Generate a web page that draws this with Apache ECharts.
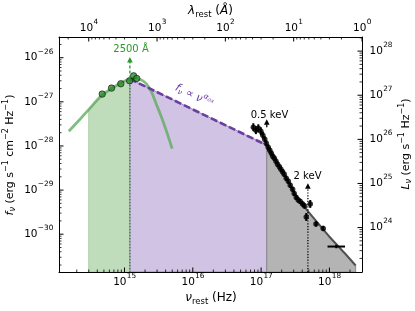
<!DOCTYPE html>
<html>
<head>
<meta charset="utf-8">
<script src="https://cdn.jsdelivr.net/npm/echarts@6.0.0/dist/echarts.min.js"></script>
<style>html,body{margin:0;padding:0;background:#fff;}#chart{width:415px;height:311px;}</style>
</head>
<body>
<div id="chart"></div>
<script>
// ---- axis limits ----
const nuMin = 1.1e14, nuMax = 2.998e18;          // Hz
const fMin = 1.39e-31, fMax = 2.95e-26;          // erg s^-1 cm^-2 Hz^-1
const lumPerFlux = 7.08e53;                      // L_nu / f_nu
const cAngHz = 2.998e18;                         // c in Angstrom * Hz

// ---- UV/optical photometry ----
const photNu = [4.72e14, 6.46e14, 8.83e14, 1.19e15, 1.36e15, 1.51e15];
const photF  = [1.50e-27, 2.05e-27, 2.57e-27, 3.00e-27, 3.89e-27, 3.39e-27];

// ---- accretion-disc model curve ----
const diskNu = [1.53e14, 2.20e14, 3.08e14, 4.32e14, 5.64e14, 7.39e14, 9.35e14, 1.18e15, 1.45e15, 1.71e15, 2.07e15, 2.45e15, 2.90e15, 3.44e15, 4.07e15, 4.98e15];
const diskF  = [2.16e-28, 3.94e-28, 7.00e-28, 1.25e-27, 1.75e-27, 2.28e-27, 2.81e-27, 3.28e-27, 3.46e-27, 3.20e-27, 2.62e-27, 1.75e-27, 9.20e-28, 4.73e-28, 2.28e-28, 8.73e-29];

// ---- shaded optical band (1 micron .. 2500 A) ----
const greenFillNu = [3.0e14, 4.32e14, 5.64e14, 7.39e14, 9.35e14, 1.18e15, 1.2e15];
const greenFillF  = [6.7e-28, 1.25e-27, 1.75e-27, 2.28e-27, 2.81e-27, 3.28e-27, 3.3e-27];

// ---- alpha_ox power law (2500 A .. 0.5 keV) ----
const aoxNu = [1.2e15, 1.21e17];
const aoxF  = [3.3e-27, 1.04e-28];

// ---- X-ray model (0.5 .. 10 keV) ----
const xModelNu = [1.21e17, 1.56e17, 2.04e17, 2.58e17, 3.16e17, 4.00e17, 4.73e17, 6.64e17, 9.93e17, 1.64e18, 2.42e18];
const xModelF  = [1.04e-28, 5.53e-29, 2.66e-29, 1.42e-29, 7.98e-30, 4.73e-30, 3.46e-30, 1.85e-30, 8.87e-31, 3.84e-31, 1.95e-31];

// ---- X-ray spectral points ----
const xrayNu = [7.69e16, 8.38e16, 9.10e16, 9.91e16, 1.06e17, 1.13e17, 1.19e17, 1.27e17, 1.34e17, 1.41e17, 1.48e17, 1.56e17, 1.65e17, 1.74e17, 1.85e17, 1.95e17, 2.06e17, 2.18e17, 2.33e17, 2.50e17, 2.67e17, 2.89e17, 3.05e17, 3.27e17, 3.50e17, 3.74e17, 4.05e17, 4.33e17, 4.58e17, 5.24e17, 6.35e17, 8.11e17];
const xrayF  = [2.66e-28, 2.28e-28, 2.52e-28, 2.16e-28, 1.75e-28, 1.42e-28, 1.15e-28, 9.33e-29, 7.98e-29, 6.82e-29, 5.83e-29, 5.25e-29, 4.49e-29, 3.84e-29, 3.37e-29, 2.95e-29, 2.59e-29, 2.28e-29, 1.85e-29, 1.58e-29, 1.28e-29, 1.04e-29, 8.41e-30, 6.82e-30, 5.98e-30, 5.53e-30, 4.85e-30, 4.38e-30, 2.46e-30, 4.85e-30, 1.71e-30, 1.35e-30];
const xrayErrDex = [0.09, 0.09, 0.09, 0.09, 0.08, 0.07, 0.07, 0.07, 0.07, 0.06, 0.06, 0.06, 0.06, 0.06, 0.06, 0.06, 0.06, 0.06, 0.06, 0.06, 0.06, 0.06, 0.06, 0.06, 0.06, 0.06, 0.06, 0.06, 0.09, 0.09, 0.06, 0.06];

// ---- hard X-ray point (binned) ----
const hardNu = [1.26e18], hardNuLo = [9.38e17], hardNuHi = [1.69e18];
const hardF = [5.25e-31], hardFLo = [4.8e-31], hardFHi = [5.75e-31];

// ---- annotation arrows ----
const arrowNu    = [1.2e15, 1.21e17, 4.84e17];
const arrowTailF = [3.4e-27, 2.66e-28, 1.39e-31];
const arrowTipF  = [1.04e-26, 4.05e-28, 1.42e-29];
const guideNu = [1.2e15];          // dotted 2500 A guide
const guideTopF = [3.3e-27];

// ---- tick decades (exponents) ----
const bottomDecades = [15, 16, 17, 18];       // nu (Hz)
const topDecades = [4, 3, 2, 1, 0];           // lambda (A)
const leftDecades = [-30, -29, -28, -27, -26];// f_nu
const rightDecades = [24, 25, 26, 27, 28];    // L_nu

const FONT = 'DejaVu Sans';
const GREEN = '#2a9a2a';
const PURPLE = '#6a3fa0';

const mctx = document.createElement('canvas').getContext('2d');
function textW(t, size) { mctx.font = size + 'px "DejaVu Sans"'; return mctx.measureText(t).width; }
function expText(k) { return k < 0 ? '\u2212' + (-k) : String(k); }

function axisBase(extra) {
  return Object.assign({
    type: 'log', logBase: 10,
    axisLine: {show: true, onZero: false, lineStyle: {color: '#000', width: 1}},
    axisTick: {show: false}, minorTick: {show: false},
    splitLine: {show: false}, axisLabel: {show: false}
  }, extra);
}

// major ticks + "10^k" labels
function decadeSeries(decades, xi, yi, toPoint, side, size) {
  return {
    type: 'custom', xAxisIndex: xi, yAxisIndex: yi, silent: true, clip: false, z: 30,
    data: decades.map(k => toPoint(Math.pow(10, k))),
    renderItem(params, api) {
      const k = decades[params.dataIndex];
      const p = api.coord([api.value(0), api.value(1)]);
      const sup = expText(k), ss = size * 0.7;
      const w10 = textW('10', size), ws = textW(sup, ss);
      let x0, yc, t;
      if (side === 'bottom') { x0 = p[0] - (w10 + ws) / 2; yc = p[1] + 10; t = [0, -4.5]; }
      else if (side === 'top') { x0 = p[0] - (w10 + ws) / 2; yc = p[1] - 8.5; t = [0, 4.5]; }
      else if (side === 'left') { x0 = p[0] - 6 - (w10 + ws); yc = p[1]; t = [4.5, 0]; }
      else { x0 = p[0] + 7.5; yc = p[1]; t = [-4.5, 0]; }
      return {type: 'group', children: [
        {type: 'line', shape: {x1: p[0], y1: p[1], x2: p[0] + t[0], y2: p[1] + t[1]}, style: {stroke: '#000', lineWidth: 1}},
        {type: 'text', x: x0, y: yc, style: {text: '10', fill: '#000', fontSize: size, fontFamily: FONT, align: 'left', verticalAlign: 'middle'}},
        {type: 'text', x: x0 + w10 + 0.3, y: yc - 6, style: {text: sup, fill: '#000', fontSize: ss, fontFamily: FONT, align: 'left', verticalAlign: 'middle'}}
      ]};
    }
  };
}

// minor ticks (2..9 x 10^k)
function minorValues(kLo, kHi, lo, hi) {
  const out = [];
  for (let k = kLo; k <= kHi; k++) for (let m = 2; m <= 9; m++) { const v = m * Math.pow(10, k); if (v > lo && v < hi) out.push(v); }
  return out;
}
function minorSeries(values, xi, yi, toPoint, dx, dy) {
  return {
    type: 'custom', xAxisIndex: xi, yAxisIndex: yi, silent: true, clip: false, z: 30,
    data: values.map(toPoint),
    renderItem(params, api) {
      const p = api.coord([api.value(0), api.value(1)]);
      return {type: 'line', shape: {x1: p[0], y1: p[1], x2: p[0] + dx, y2: p[1] + dy}, style: {stroke: '#000', lineWidth: 0.8}};
    }
  };
}

function fillSeries(nu, f, fill, edge, z) {
  return {
    type: 'custom', xAxisIndex: 0, yAxisIndex: 0, silent: true, clip: true, z: z,
    data: nu.map((v, i) => [v, f[i]]),
    renderItem(params, api) {
      if (params.dataIndex !== 0) return null;
      const pts = nu.map((v, i) => api.coord([v, f[i]]));
      pts.push(api.coord([nu[nu.length - 1], fMin]));
      pts.push(api.coord([nu[0], fMin]));
      return {type: 'polygon', shape: {points: pts}, style: {fill: fill, stroke: edge, lineWidth: 1}};
    }
  };
}

const arrowColor = [GREEN, '#000', '#000'];
const arrowDash = [[3, 2], null, [1.2, 1.6]];
const lMin = fMin * lumPerFlux, lMax = fMax * lumPerFlux;
const lamMin = cAngHz / nuMax, lamMax = cAngHz / nuMin;

const chart = echarts.init(document.getElementById('chart'), null, {renderer: 'canvas'});
chart.setOption({
  animation: false,
  backgroundColor: '#fff',
  grid: {left: 59, top: 37, width: 303, height: 235, containLabel: false, outerBoundsMode: 'none'},
  xAxis: [
    axisBase({position: 'bottom', min: nuMin, max: nuMax}),
    axisBase({position: 'top', inverse: true, min: lamMin, max: lamMax})
  ],
  yAxis: [
    axisBase({position: 'left', min: fMin, max: fMax}),
    axisBase({position: 'right', min: lMin, max: lMax})
  ],
  series: [
    fillSeries(greenFillNu, greenFillF, '#c0ddbb', '#a9cfa3', 1),
    fillSeries(aoxNu, aoxF, '#d1c3e3', '#9a80bd', 1),
    fillSeries(xModelNu, xModelF, '#b4b4b4', '#8a8a8a', 1),
    { // dotted 2500 A guide line
      type: 'custom', xAxisIndex: 0, yAxisIndex: 0, silent: true, z: 3,
      data: guideNu.map((v, i) => [v, guideTopF[i]]),
      renderItem(params, api) {
        const a = api.coord([api.value(0), api.value(1)]);
        const b = api.coord([api.value(0), fMin]);
        return {type: 'line', shape: {x1: a[0], y1: a[1], x2: b[0], y2: b[1]}, style: {stroke: '#2e8b2e', lineWidth: 1.3, lineDash: [1.3, 1.7]}};
      }
    },
    {
      type: 'line', name: 'disk', data: diskNu.map((v, i) => [v, diskF[i]]), showSymbol: false, smooth: 0.3, z: 4,
      lineStyle: {color: 'rgba(95,170,95,0.78)', width: 2.8}
    },
    {
      type: 'line', name: 'aox', data: aoxNu.map((v, i) => [v, aoxF[i]]), showSymbol: false, z: 5,
      lineStyle: {color: PURPLE, width: 2.6, type: [7, 3]}
    },
    {
      type: 'line', name: 'xmodel', data: xModelNu.map((v, i) => [v, xModelF[i]]), showSymbol: false, smooth: 0.2, z: 5,
      lineStyle: {color: '#505050', width: 2}
    },
    { // error bars
      type: 'custom', xAxisIndex: 0, yAxisIndex: 0, silent: true, z: 6,
      data: xrayNu.map((v, i) => [v, xrayF[i], xrayErrDex[i]]),
      renderItem(params, api) {
        const nu = api.value(0), f = api.value(1), e = Math.pow(10, api.value(2));
        const a = api.coord([nu, f / e]), b = api.coord([nu, f * e]);
        return {type: 'line', shape: {x1: a[0], y1: a[1], x2: b[0], y2: b[1]}, style: {stroke: '#000', lineWidth: 2}};
      }
    },
    {
      type: 'scatter', name: 'xray', data: xrayNu.map((v, i) => [v, xrayF[i]]), symbol: 'circle', symbolSize: 5.5, z: 7,
      itemStyle: {color: '#000'}
    },
    { // hard X-ray cross
      type: 'custom', xAxisIndex: 0, yAxisIndex: 0, silent: true, z: 7,
      data: hardNu.map((v, i) => [v, hardF[i], hardNuLo[i], hardNuHi[i], hardFLo[i], hardFHi[i]]),
      renderItem(params, api) {
        const l = api.coord([api.value(2), api.value(1)]), r = api.coord([api.value(3), api.value(1)]);
        const d = api.coord([api.value(0), api.value(4)]), u = api.coord([api.value(0), api.value(5)]);
        return {type: 'group', children: [
          {type: 'line', shape: {x1: l[0], y1: l[1], x2: r[0], y2: r[1]}, style: {stroke: '#000', lineWidth: 2}},
          {type: 'line', shape: {x1: d[0], y1: d[1], x2: u[0], y2: u[1]}, style: {stroke: '#000', lineWidth: 2}}
        ]};
      }
    },
    {
      type: 'scatter', name: 'phot', data: photNu.map((v, i) => [v, photF[i]]), symbol: 'circle', symbolSize: 6.5, z: 8,
      itemStyle: {color: '#2b8a2b', borderColor: '#000', borderWidth: 0.7}
    },
    { // arrows
      type: 'custom', xAxisIndex: 0, yAxisIndex: 0, silent: true, clip: false, z: 9,
      data: arrowNu.map((v, i) => [v, arrowTailF[i], arrowTipF[i]]),
      renderItem(params, api) {
        const i = params.dataIndex;
        const t = api.coord([api.value(0), api.value(1)]);
        const h = api.coord([api.value(0), api.value(2)]);
        const hl = 5.5, hw = 2.8;
        return {type: 'group', children: [
          {type: 'line', shape: {x1: t[0], y1: t[1], x2: h[0], y2: h[1] + hl - 0.5}, style: {stroke: arrowColor[i], lineWidth: 1.3, lineDash: arrowDash[i]}},
          {type: 'polygon', shape: {points: [[h[0], h[1]], [h[0] - hw, h[1] + hl], [h[0] + hw, h[1] + hl]]}, style: {fill: arrowColor[i]}}
        ]};
      }
    },
    decadeSeries(bottomDecades, 0, 0, v => [v, fMin], 'bottom', 10.5),
    decadeSeries(topDecades, 1, 0, v => [v, fMax], 'top', 10.5),
    decadeSeries(leftDecades, 0, 0, v => [nuMin, v], 'left', 10.5),
    decadeSeries(rightDecades, 0, 1, v => [nuMax, v], 'right', 10.5),
    minorSeries(minorValues(14, 18, nuMin, nuMax), 0, 0, v => [v, fMin], 0, -2.5),
    minorSeries(minorValues(0, 4, lamMin, lamMax), 1, 0, v => [v, fMax], 0, 2.5),
    minorSeries(minorValues(-32, -26, fMin, fMax), 0, 0, v => [nuMin, v], 2.5, 0),
    minorSeries(minorValues(22, 28, lMin, lMax), 0, 1, v => [nuMax, v], -2.5, 0)
  ],
  graphic: [
    {type: 'text', x: 131, y: 49.5, z: 50, style: {text: '2500 Å', font: '10px "DejaVu Sans"', fill: GREEN, align: 'center', verticalAlign: 'middle'}},
    {type: 'text', x: 269.5, y: 115, z: 50, style: {text: '0.5 keV', font: '10px "DejaVu Sans"', fill: '#000', align: 'center', verticalAlign: 'middle'}},
    {type: 'text', x: 307.5, y: 176.5, z: 50, style: {text: '2 keV', font: '10px "DejaVu Sans"', fill: '#000', align: 'center', verticalAlign: 'middle'}},
    {type: 'text', x: 194, y: 96, rotation: -0.45, z: 50, style: {
      text: '{i|f}{sb|ν}{n| ∝ }{i|ν}{sp|α}{ss|ox}', align: 'center', verticalAlign: 'middle',
      rich: {
        i: {fontFamily: FONT, fontStyle: 'italic', fontSize: 11, lineHeight: 11, fill: PURPLE},
        n: {fontFamily: FONT, fontSize: 11, lineHeight: 11, fill: PURPLE},
        sb: {fontFamily: FONT, fontStyle: 'italic', fontSize: 7.5, lineHeight: 7, padding: [6, 0, 0, 0], fill: PURPLE},
        sp: {fontFamily: FONT, fontStyle: 'italic', fontSize: 7.5, lineHeight: 7, padding: [0, 0, 9, 0], fill: PURPLE},
        ss: {fontFamily: FONT, fontStyle: 'italic', fontSize: 5.5, lineHeight: 5, padding: [0, 0, 6, 0], fill: PURPLE}
      }}},
    {type: 'text', x: 211, y: 298, z: 50, style: {
      text: '{i|ν}{sb|rest}{n| (Hz)}', align: 'center', verticalAlign: 'middle',
      rich: {
        i: {fontFamily: FONT, fontStyle: 'italic', fontSize: 12, lineHeight: 12, fill: '#000'},
        n: {fontFamily: FONT, fontSize: 12, lineHeight: 12, fill: '#000'},
        sb: {fontFamily: FONT, fontSize: 8.5, lineHeight: 8, padding: [7, 0, 0, 0], fill: '#000'}
      }}},
    {type: 'text', x: 210.5, y: 11, z: 50, style: {
      text: '{i|λ}{sb|rest}{n| (}{i|Å}{n|)}', align: 'center', verticalAlign: 'middle',
      rich: {
        i: {fontFamily: FONT, fontStyle: 'italic', fontSize: 12, lineHeight: 12, fill: '#000'},
        n: {fontFamily: FONT, fontSize: 12, lineHeight: 12, fill: '#000'},
        sb: {fontFamily: FONT, fontSize: 8.5, lineHeight: 8, padding: [7, 0, 0, 0], fill: '#000'}
      }}},
    {type: 'text', x: 10, y: 155, rotation: Math.PI / 2, z: 50, style: {
      text: '{i|f}{sb|ν}{n| (erg s}{sp|−1}{n| cm}{sp|−2}{n| Hz}{sp|−1}{n|)}', align: 'center', verticalAlign: 'middle',
      rich: {
        i: {fontFamily: FONT, fontStyle: 'italic', fontSize: 11, lineHeight: 11, fill: '#000'},
        n: {fontFamily: FONT, fontSize: 11, lineHeight: 11, fill: '#000'},
        sb: {fontFamily: FONT, fontStyle: 'italic', fontSize: 8, lineHeight: 8, padding: [6, 0, 0, 0], fill: '#000'},
        sp: {fontFamily: FONT, fontSize: 8, lineHeight: 8, padding: [0, 0, 8, 0], fill: '#000'}
      }}},
    {type: 'text', x: 406, y: 144, rotation: Math.PI / 2, z: 50, style: {
      text: '{i|L}{sb|ν}{n| (erg s}{sp|−1}{n| Hz}{sp|−1}{n|)}', align: 'center', verticalAlign: 'middle',
      rich: {
        i: {fontFamily: FONT, fontStyle: 'italic', fontSize: 11, lineHeight: 11, fill: '#000'},
        n: {fontFamily: FONT, fontSize: 11, lineHeight: 11, fill: '#000'},
        sb: {fontFamily: FONT, fontStyle: 'italic', fontSize: 8, lineHeight: 8, padding: [6, 0, 0, 0], fill: '#000'},
        sp: {fontFamily: FONT, fontSize: 8, lineHeight: 8, padding: [0, 0, 8, 0], fill: '#000'}
      }}}
  ]
});
</script>
</body>
</html>
